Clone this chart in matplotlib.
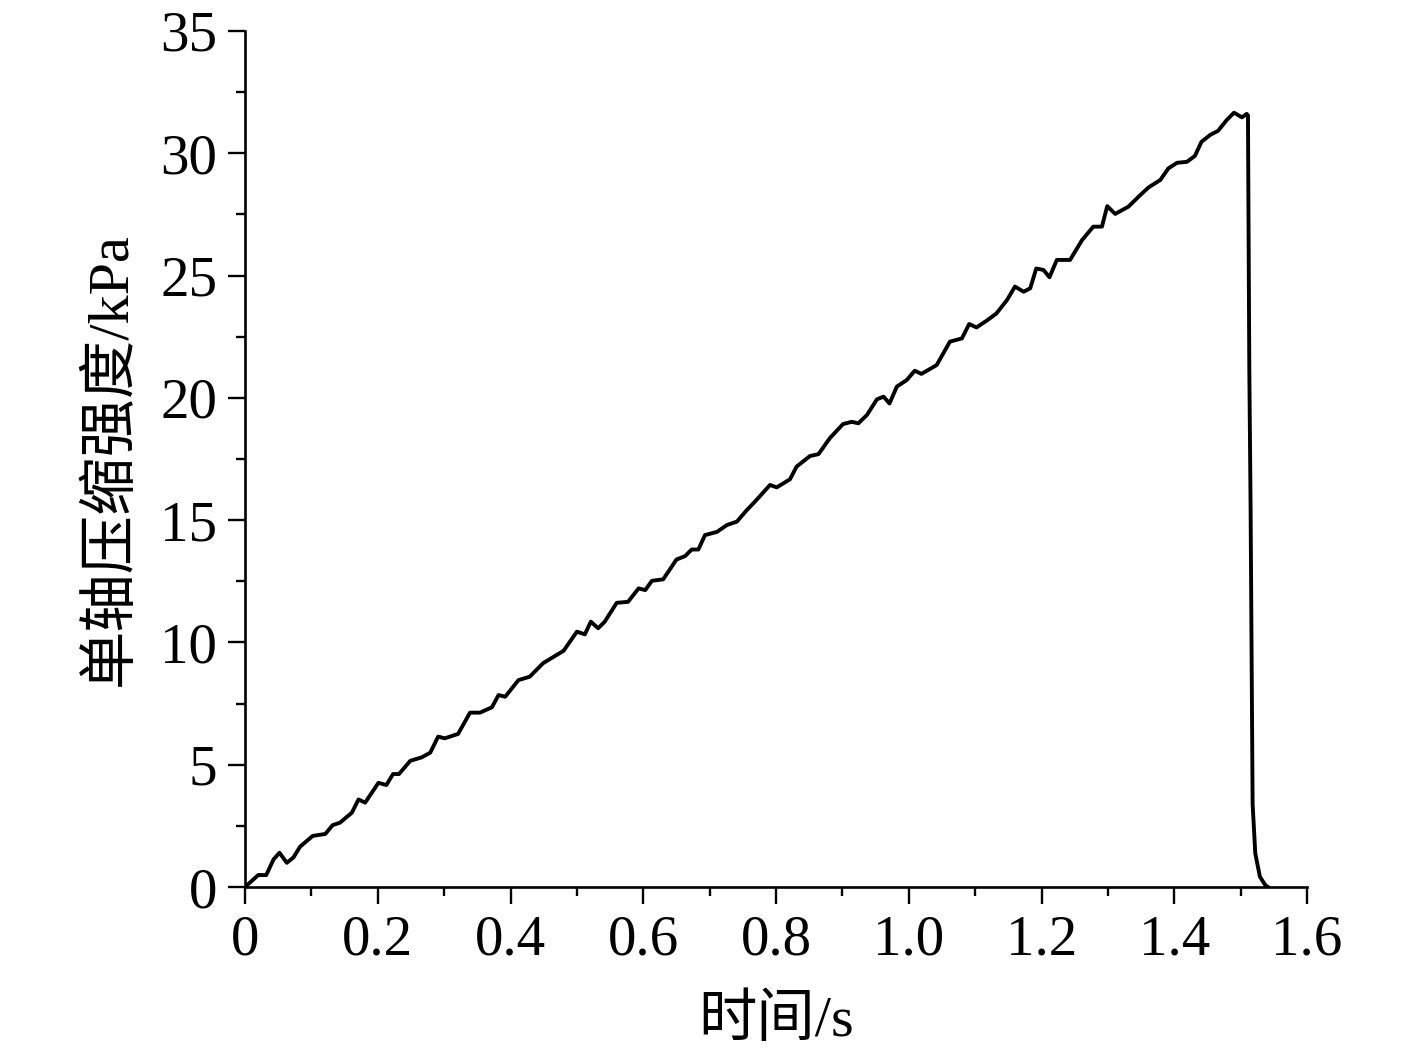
import matplotlib
matplotlib.use("Agg")
import matplotlib.pyplot as plt
from matplotlib.ticker import MultipleLocator

time_s = [0.000, 0.020, 0.032, 0.043, 0.052, 0.063, 0.073, 0.083, 0.102, 0.121,
          0.132, 0.143, 0.161, 0.171, 0.181, 0.201, 0.213, 0.223, 0.232, 0.249,
          0.266, 0.279, 0.291, 0.301, 0.321, 0.339, 0.354, 0.372, 0.382, 0.392,
          0.412, 0.429, 0.449, 0.480, 0.500, 0.512, 0.521, 0.532, 0.542, 0.560,
          0.577, 0.593, 0.603, 0.613, 0.630, 0.650, 0.663, 0.673, 0.683, 0.693,
          0.711, 0.726, 0.741, 0.756, 0.768, 0.791, 0.801, 0.821, 0.831, 0.851,
          0.864, 0.881, 0.901, 0.914, 0.924, 0.937, 0.952, 0.962, 0.971, 0.982,
          0.997, 1.009, 1.019, 1.042, 1.062, 1.080, 1.091, 1.102, 1.117, 1.132,
          1.148, 1.160, 1.173, 1.183, 1.192, 1.203, 1.212, 1.223, 1.243, 1.261,
          1.278, 1.291, 1.299, 1.311, 1.331, 1.346, 1.361, 1.379, 1.391, 1.404,
          1.419, 1.431, 1.441, 1.454, 1.466, 1.479, 1.490, 1.502, 1.509, 1.511,
          1.513, 1.515, 1.518, 1.522, 1.529, 1.537, 1.541]
strength_kpa = [0.00, 0.49, 0.49, 1.13, 1.40, 0.99, 1.21, 1.65, 2.09, 2.17,
                2.53, 2.63, 3.04, 3.58, 3.45, 4.26, 4.17, 4.62, 4.62, 5.16,
                5.30, 5.49, 6.15, 6.08, 6.26, 7.13, 7.13, 7.35, 7.85, 7.78,
                8.46, 8.60, 9.15, 9.66, 10.44, 10.33, 10.85, 10.58, 10.85, 11.62,
                11.66, 12.21, 12.14, 12.52, 12.58, 13.39, 13.53, 13.80, 13.80, 14.39,
                14.52, 14.80, 14.94, 15.41, 15.75, 16.44, 16.34, 16.67, 17.19, 17.62,
                17.70, 18.35, 18.93, 19.02, 18.96, 19.30, 19.94, 20.05, 19.77, 20.46,
                20.73, 21.11, 20.98, 21.34, 22.30, 22.43, 23.02, 22.88, 23.15, 23.45,
                24.00, 24.55, 24.34, 24.48, 25.29, 25.23, 24.93, 25.64, 25.64, 26.45,
                27.00, 27.00, 27.84, 27.52, 27.82, 28.22, 28.60, 28.91, 29.38, 29.61,
                29.65, 29.89, 30.47, 30.75, 30.92, 31.36, 31.66, 31.47, 31.61, 31.55,
                21.30, 15.40, 3.40, 1.38, 0.42, 0.08, 0.00]

x_ticks = [0, 0.2, 0.4, 0.6, 0.8, 1.0, 1.2, 1.4, 1.6]
x_tick_labels = ["0", "0.2", "0.4", "0.6", "0.8", "1.0", "1.2", "1.4", "1.6"]
y_ticks = [0, 5, 10, 15, 20, 25, 30, 35]
x_label = "时间/s"
y_label = "单轴压缩强度/kPa"

fam = ["Liberation Serif", "Noto Sans CJK SC", "DejaVu Sans"]
plt.rcParams["font.family"] = fam

fig = plt.figure(figsize=(14.17, 10.58), dpi=100)
ax = fig.add_axes([0.1729, 0.1616, 0.9224 - 0.1729, 0.9707 - 0.1616])

ax.plot(time_s, strength_kpa, color="black", lw=2.8, solid_joinstyle="round")

ax.set_xlim(0, 1.6)
ax.set_ylim(0, 35)
ax.set_xticks(x_ticks)
ax.set_xticklabels(x_tick_labels)
ax.set_yticks(y_ticks)
ax.xaxis.set_minor_locator(MultipleLocator(0.1))
ax.yaxis.set_minor_locator(MultipleLocator(2.5))

for s in ["top", "right"]:
    ax.spines[s].set_visible(False)
for s in ["left", "bottom"]:
    ax.spines[s].set_linewidth(1.9)

ax.tick_params(which="major", direction="out", length=12, width=1.7,
               labelsize=41, pad=8)
ax.tick_params(which="minor", direction="out", length=6.5, width=1.7)

ax.set_xlabel(x_label, fontsize=42, labelpad=20)
ax.set_ylabel(y_label, fontsize=42, labelpad=16)

fig.savefig("out.png", dpi=100)
